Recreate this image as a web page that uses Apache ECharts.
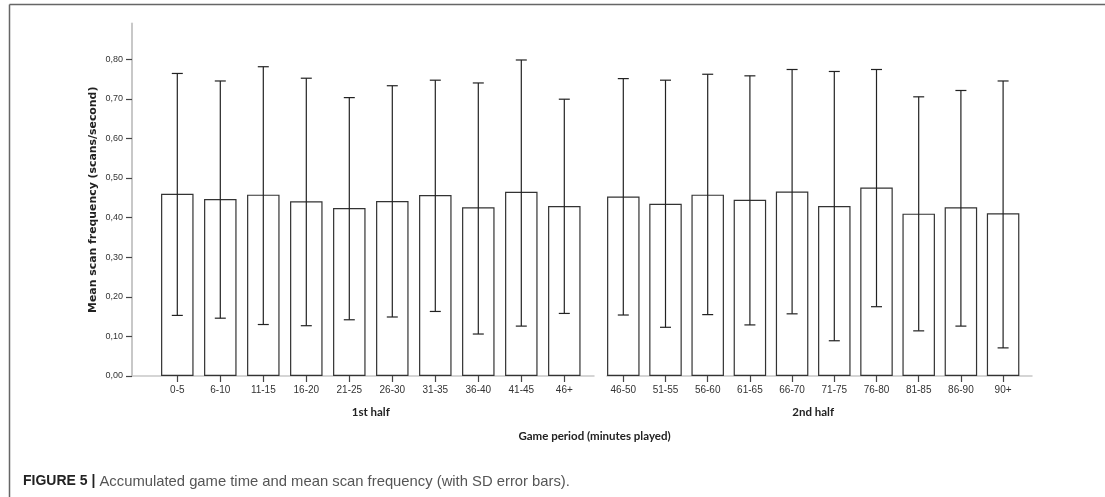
<!DOCTYPE html>
<html>
<head>
<meta charset="utf-8">
<script src="https://cdn.jsdelivr.net/npm/echarts@6/dist/echarts.min.js"></script>
<style>
html,body{margin:0;padding:0;background:#fff;}
#chart{width:1105px;height:497px;}
</style>
</head>
<body>
<div id="chart"></div>
<script>
// ---- data ----
const firstHalfCats = ['0-5','6-10','11-15','16-20','21-25','26-30','31-35','36-40','41-45','46+'];
const firstHalfMean = [0.460,0.447,0.458,0.441,0.424,0.442,0.457,0.426,0.465,0.429];
const firstHalfUpper = [0.764,0.745,0.781,0.752,0.703,0.733,0.747,0.740,0.798,0.699];
const firstHalfLower = [0.153,0.146,0.130,0.127,0.142,0.149,0.163,0.106,0.126,0.158];

const secondHalfCats = ['46-50','51-55','56-60','61-65','66-70','71-75','76-80','81-85','86-90','90+'];
const secondHalfMean = [0.453,0.435,0.458,0.445,0.466,0.429,0.476,0.410,0.426,0.411];
const secondHalfUpper = [0.751,0.747,0.762,0.758,0.774,0.769,0.774,0.705,0.721,0.745];
const secondHalfLower = [0.154,0.123,0.155,0.129,0.157,0.089,0.175,0.114,0.126,0.071];

const yTicks = [0,0.1,0.2,0.3,0.4,0.5,0.6,0.7,0.8];
const yAxisTitle = 'Mean scan frequency (scans/second)';
const xAxisTitle = 'Game period (minutes played)';
const halfNames = ['1st half','2nd half'];
const captionBold = 'FIGURE 5 |';
const captionText = ' Accumulated game time and mean scan frequency (with SD error bars).';

// ---- layout ----
const Y0 = 376, PX = 396; // pixel of zero and pixels per unit
const yMaxFrame = 0.89;
const bottom = 497 - Y0;
const frameTop = Y0 - yMaxFrame * PX;

function errData(cats, lo, hi) {
  return cats.map((c, i) => [i, lo[i], hi[i]]);
}
function errRender(params, api) {
  const x = api.value(0);
  const lo = api.coord([x, api.value(1)]);
  const hi = api.coord([x, api.value(2)]);
  const hw = 5.5;
  const st = { stroke: '#222', lineWidth: 1.2 };
  return {
    type: 'group',
    children: [
      { type: 'line', shape: { x1: lo[0], y1: lo[1], x2: hi[0], y2: hi[1] }, style: st },
      { type: 'line', shape: { x1: hi[0] - hw, y1: hi[1], x2: hi[0] + hw, y2: hi[1] }, style: st },
      { type: 'line', shape: { x1: lo[0] - hw, y1: lo[1], x2: lo[0] + hw, y2: lo[1] }, style: st }
    ]
  };
}

const axisGray = '#c8c8c8';
const tickFont = { fontFamily: 'Liberation Sans, Arial, sans-serif', color: '#333' };

const option = {
  animation: false,
  backgroundColor: '#fff',
  grid: [
    { left: 132, width: 462, top: frameTop, bottom: bottom },           // 0 frame 1st half
    { left: 132, width: 462, top: Y0 - 0.8 * PX, bottom: bottom },      // 1 y ticks
    { left: 155.8, width: 430, top: frameTop, bottom: bottom },         // 2 bars 1st half
    { left: 607, width: 425, top: frameTop, bottom: bottom },           // 3 frame 2nd half
    { left: 602.2, width: 422, top: frameTop, bottom: bottom }          // 4 bars 2nd half
  ],
  xAxis: [
    { gridIndex: 0, type: 'value', min: 0, max: 1, axisLine: { show: true, onZero: false, lineStyle: { color: axisGray, width: 1.5 } }, axisTick: { show: false }, axisLabel: { show: false }, splitLine: { show: false } },
    { gridIndex: 1, type: 'value', min: 0, max: 1, show: false },
    { gridIndex: 2, type: 'category', data: firstHalfCats, boundaryGap: true,
      axisLine: { show: false }, axisTick: { show: true, alignWithLabel: true, length: 6, lineStyle: { color: '#444', width: 1.2 } },
      axisLabel: Object.assign({ fontSize: 10, margin: 9, interval: 0 }, tickFont),
      name: halfNames[0], nameLocation: 'middle', nameGap: 30,
      nameTextStyle: { fontFamily: 'Lato, sans-serif', fontWeight: 'bold', fontSize: 11.5, color: '#222' } },
    { gridIndex: 3, type: 'value', min: 0, max: 1, axisLine: { show: true, onZero: false, lineStyle: { color: axisGray, width: 1.5 } }, axisTick: { show: false }, axisLabel: { show: false }, splitLine: { show: false } },
    { gridIndex: 4, type: 'category', data: secondHalfCats, boundaryGap: true,
      axisLine: { show: false }, axisTick: { show: true, alignWithLabel: true, length: 6, lineStyle: { color: '#444', width: 1.2 } },
      axisLabel: Object.assign({ fontSize: 10, margin: 9, interval: 0 }, tickFont),
      name: halfNames[1], nameLocation: 'middle', nameGap: 30,
      nameTextStyle: { fontFamily: 'Lato, sans-serif', fontWeight: 'bold', fontSize: 11.5, color: '#222' } }
  ],
  yAxis: [
    { gridIndex: 0, type: 'value', min: 0, max: yMaxFrame,
      axisLine: { show: true, lineStyle: { color: axisGray, width: 2 } }, axisTick: { show: false }, axisLabel: { show: false }, splitLine: { show: false },
      name: yAxisTitle, nameLocation: 'middle', nameGap: 33, nameRotate: 90,
      nameTextStyle: { fontFamily: 'DejaVu Sans, sans-serif', fontWeight: 'bold', fontSize: 10.9, color: '#222' } },
    { gridIndex: 1, type: 'value', min: 0, max: 0.8, interval: 0.1,
      axisLine: { show: false }, axisTick: { show: true, length: 6, lineStyle: { color: '#444', width: 1.2 } },
      axisLabel: Object.assign({ fontSize: 9, margin: 9, formatter: v => v.toFixed(2).replace('.', ',') }, tickFont),
      splitLine: { show: false } },
    { gridIndex: 2, type: 'value', min: 0, max: yMaxFrame, show: false },
    { gridIndex: 3, type: 'value', min: 0, max: yMaxFrame, show: false },
    { gridIndex: 4, type: 'value', min: 0, max: yMaxFrame, show: false }
  ],
  series: [
    { type: 'bar', xAxisIndex: 2, yAxisIndex: 2, data: firstHalfMean, barWidth: 32.5,
      itemStyle: { color: '#fff', borderColor: '#333', borderWidth: 1.2 }, silent: true },
    { type: 'custom', xAxisIndex: 2, yAxisIndex: 2, data: errData(firstHalfCats, firstHalfLower, firstHalfUpper), renderItem: errRender, z: 5, silent: true },
    { type: 'bar', xAxisIndex: 4, yAxisIndex: 4, data: secondHalfMean, barWidth: 32.5,
      itemStyle: { color: '#fff', borderColor: '#333', borderWidth: 1.2 }, silent: true },
    { type: 'custom', xAxisIndex: 4, yAxisIndex: 4, data: errData(secondHalfCats, secondHalfLower, secondHalfUpper), renderItem: errRender, z: 5, silent: true }
  ],
  graphic: [
    { type: 'line', shape: { x1: 9.5, y1: 4.5, x2: 1105, y2: 4.5 }, style: { stroke: '#666', lineWidth: 1.5 }, silent: true },
    { type: 'line', shape: { x1: 9.5, y1: 4.5, x2: 9.5, y2: 497 }, style: { stroke: '#666', lineWidth: 1.5 }, silent: true },
    { type: 'text', x: 594.5, y: 436.5, style: { text: xAxisTitle, fontFamily: 'Lato, sans-serif', fontWeight: 'bold', fontSize: 11.5, fill: '#222', align: 'center', verticalAlign: 'middle' } },
    { type: 'text', x: 23, y: 481.5, style: {
        text: '{b|' + captionBold + '}{r|' + captionText + '}',
        verticalAlign: 'middle', align: 'left',
        rich: {
          b: { fontFamily: 'Liberation Sans, Arial, sans-serif', fontWeight: 'bold', fontSize: 14, fill: '#222' },
          r: { fontFamily: 'Liberation Sans, Arial, sans-serif', fontSize: 14.8, fill: '#555' }
        } } }
  ]
};

const chart = echarts.init(document.getElementById('chart'), null, { renderer: 'canvas' });
chart.setOption(option);
</script>
</body>
</html>
